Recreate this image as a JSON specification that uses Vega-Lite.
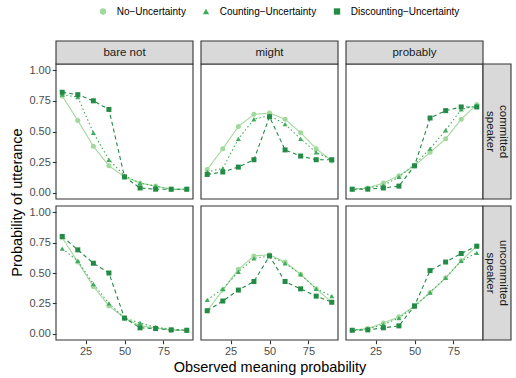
{
"$schema": "https://vega.github.io/schema/vega-lite/v6.json",
"padding": {"left": 9, "top": 6, "right": 5, "bottom": 0},
"datasets": {"d": [
{"modal":"bare not","speaker":"committed","model":"No−Uncertainty","x":10,"y":0.79},
{"modal":"bare not","speaker":"committed","model":"No−Uncertainty","x":20,"y":0.59},
{"modal":"bare not","speaker":"committed","model":"No−Uncertainty","x":30,"y":0.38},
{"modal":"bare not","speaker":"committed","model":"No−Uncertainty","x":40,"y":0.22},
{"modal":"bare not","speaker":"committed","model":"No−Uncertainty","x":50,"y":0.13},
{"modal":"bare not","speaker":"committed","model":"No−Uncertainty","x":60,"y":0.08},
{"modal":"bare not","speaker":"committed","model":"No−Uncertainty","x":70,"y":0.055},
{"modal":"bare not","speaker":"committed","model":"No−Uncertainty","x":80,"y":0.03},
{"modal":"bare not","speaker":"committed","model":"No−Uncertainty","x":90,"y":0.03},
{"modal":"bare not","speaker":"committed","model":"Counting−Uncertainty","x":10,"y":0.80},
{"modal":"bare not","speaker":"committed","model":"Counting−Uncertainty","x":20,"y":0.78},
{"modal":"bare not","speaker":"committed","model":"Counting−Uncertainty","x":30,"y":0.49},
{"modal":"bare not","speaker":"committed","model":"Counting−Uncertainty","x":40,"y":0.27},
{"modal":"bare not","speaker":"committed","model":"Counting−Uncertainty","x":50,"y":0.14},
{"modal":"bare not","speaker":"committed","model":"Counting−Uncertainty","x":60,"y":0.08},
{"modal":"bare not","speaker":"committed","model":"Counting−Uncertainty","x":70,"y":0.055},
{"modal":"bare not","speaker":"committed","model":"Counting−Uncertainty","x":80,"y":0.03},
{"modal":"bare not","speaker":"committed","model":"Counting−Uncertainty","x":90,"y":0.03},
{"modal":"bare not","speaker":"committed","model":"Discounting−Uncertainty","x":10,"y":0.82},
{"modal":"bare not","speaker":"committed","model":"Discounting−Uncertainty","x":20,"y":0.80},
{"modal":"bare not","speaker":"committed","model":"Discounting−Uncertainty","x":30,"y":0.75},
{"modal":"bare not","speaker":"committed","model":"Discounting−Uncertainty","x":40,"y":0.68},
{"modal":"bare not","speaker":"committed","model":"Discounting−Uncertainty","x":50,"y":0.13},
{"modal":"bare not","speaker":"committed","model":"Discounting−Uncertainty","x":60,"y":0.04},
{"modal":"bare not","speaker":"committed","model":"Discounting−Uncertainty","x":70,"y":0.03},
{"modal":"bare not","speaker":"committed","model":"Discounting−Uncertainty","x":80,"y":0.03},
{"modal":"bare not","speaker":"committed","model":"Discounting−Uncertainty","x":90,"y":0.03},
{"modal":"might","speaker":"committed","model":"No−Uncertainty","x":10,"y":0.19},
{"modal":"might","speaker":"committed","model":"No−Uncertainty","x":20,"y":0.36},
{"modal":"might","speaker":"committed","model":"No−Uncertainty","x":30,"y":0.54},
{"modal":"might","speaker":"committed","model":"No−Uncertainty","x":40,"y":0.64},
{"modal":"might","speaker":"committed","model":"No−Uncertainty","x":50,"y":0.65},
{"modal":"might","speaker":"committed","model":"No−Uncertainty","x":60,"y":0.60},
{"modal":"might","speaker":"committed","model":"No−Uncertainty","x":70,"y":0.49},
{"modal":"might","speaker":"committed","model":"No−Uncertainty","x":80,"y":0.36},
{"modal":"might","speaker":"committed","model":"No−Uncertainty","x":90,"y":0.26},
{"modal":"might","speaker":"committed","model":"Counting−Uncertainty","x":10,"y":0.17},
{"modal":"might","speaker":"committed","model":"Counting−Uncertainty","x":20,"y":0.20},
{"modal":"might","speaker":"committed","model":"Counting−Uncertainty","x":30,"y":0.44},
{"modal":"might","speaker":"committed","model":"Counting−Uncertainty","x":40,"y":0.60},
{"modal":"might","speaker":"committed","model":"Counting−Uncertainty","x":50,"y":0.63},
{"modal":"might","speaker":"committed","model":"Counting−Uncertainty","x":60,"y":0.56},
{"modal":"might","speaker":"committed","model":"Counting−Uncertainty","x":70,"y":0.44},
{"modal":"might","speaker":"committed","model":"Counting−Uncertainty","x":80,"y":0.33},
{"modal":"might","speaker":"committed","model":"Counting−Uncertainty","x":90,"y":0.27},
{"modal":"might","speaker":"committed","model":"Discounting−Uncertainty","x":10,"y":0.15},
{"modal":"might","speaker":"committed","model":"Discounting−Uncertainty","x":20,"y":0.17},
{"modal":"might","speaker":"committed","model":"Discounting−Uncertainty","x":30,"y":0.21},
{"modal":"might","speaker":"committed","model":"Discounting−Uncertainty","x":40,"y":0.27},
{"modal":"might","speaker":"committed","model":"Discounting−Uncertainty","x":50,"y":0.62},
{"modal":"might","speaker":"committed","model":"Discounting−Uncertainty","x":60,"y":0.35},
{"modal":"might","speaker":"committed","model":"Discounting−Uncertainty","x":70,"y":0.30},
{"modal":"might","speaker":"committed","model":"Discounting−Uncertainty","x":80,"y":0.27},
{"modal":"might","speaker":"committed","model":"Discounting−Uncertainty","x":90,"y":0.27},
{"modal":"probably","speaker":"committed","model":"No−Uncertainty","x":10,"y":0.03},
{"modal":"probably","speaker":"committed","model":"No−Uncertainty","x":20,"y":0.04},
{"modal":"probably","speaker":"committed","model":"No−Uncertainty","x":30,"y":0.08},
{"modal":"probably","speaker":"committed","model":"No−Uncertainty","x":40,"y":0.14},
{"modal":"probably","speaker":"committed","model":"No−Uncertainty","x":50,"y":0.22},
{"modal":"probably","speaker":"committed","model":"No−Uncertainty","x":60,"y":0.33},
{"modal":"probably","speaker":"committed","model":"No−Uncertainty","x":70,"y":0.44},
{"modal":"probably","speaker":"committed","model":"No−Uncertainty","x":80,"y":0.60},
{"modal":"probably","speaker":"committed","model":"No−Uncertainty","x":90,"y":0.72},
{"modal":"probably","speaker":"committed","model":"Counting−Uncertainty","x":10,"y":0.03},
{"modal":"probably","speaker":"committed","model":"Counting−Uncertainty","x":20,"y":0.04},
{"modal":"probably","speaker":"committed","model":"Counting−Uncertainty","x":30,"y":0.06},
{"modal":"probably","speaker":"committed","model":"Counting−Uncertainty","x":40,"y":0.13},
{"modal":"probably","speaker":"committed","model":"Counting−Uncertainty","x":50,"y":0.23},
{"modal":"probably","speaker":"committed","model":"Counting−Uncertainty","x":60,"y":0.36},
{"modal":"probably","speaker":"committed","model":"Counting−Uncertainty","x":70,"y":0.51},
{"modal":"probably","speaker":"committed","model":"Counting−Uncertainty","x":80,"y":0.68},
{"modal":"probably","speaker":"committed","model":"Counting−Uncertainty","x":90,"y":0.71},
{"modal":"probably","speaker":"committed","model":"Discounting−Uncertainty","x":10,"y":0.03},
{"modal":"probably","speaker":"committed","model":"Discounting−Uncertainty","x":20,"y":0.03},
{"modal":"probably","speaker":"committed","model":"Discounting−Uncertainty","x":30,"y":0.04},
{"modal":"probably","speaker":"committed","model":"Discounting−Uncertainty","x":40,"y":0.055},
{"modal":"probably","speaker":"committed","model":"Discounting−Uncertainty","x":50,"y":0.22},
{"modal":"probably","speaker":"committed","model":"Discounting−Uncertainty","x":60,"y":0.61},
{"modal":"probably","speaker":"committed","model":"Discounting−Uncertainty","x":70,"y":0.67},
{"modal":"probably","speaker":"committed","model":"Discounting−Uncertainty","x":80,"y":0.70},
{"modal":"probably","speaker":"committed","model":"Discounting−Uncertainty","x":90,"y":0.70},
{"modal":"bare not","speaker":"uncommitted","model":"No−Uncertainty","x":10,"y":0.79},
{"modal":"bare not","speaker":"uncommitted","model":"No−Uncertainty","x":20,"y":0.59},
{"modal":"bare not","speaker":"uncommitted","model":"No−Uncertainty","x":30,"y":0.39},
{"modal":"bare not","speaker":"uncommitted","model":"No−Uncertainty","x":40,"y":0.23},
{"modal":"bare not","speaker":"uncommitted","model":"No−Uncertainty","x":50,"y":0.13},
{"modal":"bare not","speaker":"uncommitted","model":"No−Uncertainty","x":60,"y":0.066},
{"modal":"bare not","speaker":"uncommitted","model":"No−Uncertainty","x":70,"y":0.05},
{"modal":"bare not","speaker":"uncommitted","model":"No−Uncertainty","x":80,"y":0.03},
{"modal":"bare not","speaker":"uncommitted","model":"No−Uncertainty","x":90,"y":0.03},
{"modal":"bare not","speaker":"uncommitted","model":"Counting−Uncertainty","x":10,"y":0.70},
{"modal":"bare not","speaker":"uncommitted","model":"Counting−Uncertainty","x":20,"y":0.60},
{"modal":"bare not","speaker":"uncommitted","model":"Counting−Uncertainty","x":30,"y":0.41},
{"modal":"bare not","speaker":"uncommitted","model":"Counting−Uncertainty","x":40,"y":0.25},
{"modal":"bare not","speaker":"uncommitted","model":"Counting−Uncertainty","x":50,"y":0.13},
{"modal":"bare not","speaker":"uncommitted","model":"Counting−Uncertainty","x":60,"y":0.09},
{"modal":"bare not","speaker":"uncommitted","model":"Counting−Uncertainty","x":70,"y":0.055},
{"modal":"bare not","speaker":"uncommitted","model":"Counting−Uncertainty","x":80,"y":0.04},
{"modal":"bare not","speaker":"uncommitted","model":"Counting−Uncertainty","x":90,"y":0.03},
{"modal":"bare not","speaker":"uncommitted","model":"Discounting−Uncertainty","x":10,"y":0.80},
{"modal":"bare not","speaker":"uncommitted","model":"Discounting−Uncertainty","x":20,"y":0.69},
{"modal":"bare not","speaker":"uncommitted","model":"Discounting−Uncertainty","x":30,"y":0.58},
{"modal":"bare not","speaker":"uncommitted","model":"Discounting−Uncertainty","x":40,"y":0.50},
{"modal":"bare not","speaker":"uncommitted","model":"Discounting−Uncertainty","x":50,"y":0.13},
{"modal":"bare not","speaker":"uncommitted","model":"Discounting−Uncertainty","x":60,"y":0.05},
{"modal":"bare not","speaker":"uncommitted","model":"Discounting−Uncertainty","x":70,"y":0.044},
{"modal":"bare not","speaker":"uncommitted","model":"Discounting−Uncertainty","x":80,"y":0.033},
{"modal":"bare not","speaker":"uncommitted","model":"Discounting−Uncertainty","x":90,"y":0.03},
{"modal":"might","speaker":"uncommitted","model":"No−Uncertainty","x":10,"y":0.19},
{"modal":"might","speaker":"uncommitted","model":"No−Uncertainty","x":20,"y":0.36},
{"modal":"might","speaker":"uncommitted","model":"No−Uncertainty","x":30,"y":0.53},
{"modal":"might","speaker":"uncommitted","model":"No−Uncertainty","x":40,"y":0.64},
{"modal":"might","speaker":"uncommitted","model":"No−Uncertainty","x":50,"y":0.65},
{"modal":"might","speaker":"uncommitted","model":"No−Uncertainty","x":60,"y":0.59},
{"modal":"might","speaker":"uncommitted","model":"No−Uncertainty","x":70,"y":0.49},
{"modal":"might","speaker":"uncommitted","model":"No−Uncertainty","x":80,"y":0.37},
{"modal":"might","speaker":"uncommitted","model":"No−Uncertainty","x":90,"y":0.26},
{"modal":"might","speaker":"uncommitted","model":"Counting−Uncertainty","x":10,"y":0.28},
{"modal":"might","speaker":"uncommitted","model":"Counting−Uncertainty","x":20,"y":0.37},
{"modal":"might","speaker":"uncommitted","model":"Counting−Uncertainty","x":30,"y":0.51},
{"modal":"might","speaker":"uncommitted","model":"Counting−Uncertainty","x":40,"y":0.62},
{"modal":"might","speaker":"uncommitted","model":"Counting−Uncertainty","x":50,"y":0.64},
{"modal":"might","speaker":"uncommitted","model":"Counting−Uncertainty","x":60,"y":0.58},
{"modal":"might","speaker":"uncommitted","model":"Counting−Uncertainty","x":70,"y":0.49},
{"modal":"might","speaker":"uncommitted","model":"Counting−Uncertainty","x":80,"y":0.37},
{"modal":"might","speaker":"uncommitted","model":"Counting−Uncertainty","x":90,"y":0.31},
{"modal":"might","speaker":"uncommitted","model":"Discounting−Uncertainty","x":10,"y":0.19},
{"modal":"might","speaker":"uncommitted","model":"Discounting−Uncertainty","x":20,"y":0.27},
{"modal":"might","speaker":"uncommitted","model":"Discounting−Uncertainty","x":30,"y":0.36},
{"modal":"might","speaker":"uncommitted","model":"Discounting−Uncertainty","x":40,"y":0.43},
{"modal":"might","speaker":"uncommitted","model":"Discounting−Uncertainty","x":50,"y":0.64},
{"modal":"might","speaker":"uncommitted","model":"Discounting−Uncertainty","x":60,"y":0.43},
{"modal":"might","speaker":"uncommitted","model":"Discounting−Uncertainty","x":70,"y":0.37},
{"modal":"might","speaker":"uncommitted","model":"Discounting−Uncertainty","x":80,"y":0.31},
{"modal":"might","speaker":"uncommitted","model":"Discounting−Uncertainty","x":90,"y":0.26},
{"modal":"probably","speaker":"uncommitted","model":"No−Uncertainty","x":10,"y":0.03},
{"modal":"probably","speaker":"uncommitted","model":"No−Uncertainty","x":20,"y":0.044},
{"modal":"probably","speaker":"uncommitted","model":"No−Uncertainty","x":30,"y":0.09},
{"modal":"probably","speaker":"uncommitted","model":"No−Uncertainty","x":40,"y":0.14},
{"modal":"probably","speaker":"uncommitted","model":"No−Uncertainty","x":50,"y":0.23},
{"modal":"probably","speaker":"uncommitted","model":"No−Uncertainty","x":60,"y":0.34},
{"modal":"probably","speaker":"uncommitted","model":"No−Uncertainty","x":70,"y":0.46},
{"modal":"probably","speaker":"uncommitted","model":"No−Uncertainty","x":80,"y":0.60},
{"modal":"probably","speaker":"uncommitted","model":"No−Uncertainty","x":90,"y":0.72},
{"modal":"probably","speaker":"uncommitted","model":"Counting−Uncertainty","x":10,"y":0.033},
{"modal":"probably","speaker":"uncommitted","model":"Counting−Uncertainty","x":20,"y":0.04},
{"modal":"probably","speaker":"uncommitted","model":"Counting−Uncertainty","x":30,"y":0.077},
{"modal":"probably","speaker":"uncommitted","model":"Counting−Uncertainty","x":40,"y":0.13},
{"modal":"probably","speaker":"uncommitted","model":"Counting−Uncertainty","x":50,"y":0.225},
{"modal":"probably","speaker":"uncommitted","model":"Counting−Uncertainty","x":60,"y":0.34},
{"modal":"probably","speaker":"uncommitted","model":"Counting−Uncertainty","x":70,"y":0.46},
{"modal":"probably","speaker":"uncommitted","model":"Counting−Uncertainty","x":80,"y":0.60},
{"modal":"probably","speaker":"uncommitted","model":"Counting−Uncertainty","x":90,"y":0.665},
{"modal":"probably","speaker":"uncommitted","model":"Discounting−Uncertainty","x":10,"y":0.03},
{"modal":"probably","speaker":"uncommitted","model":"Discounting−Uncertainty","x":20,"y":0.033},
{"modal":"probably","speaker":"uncommitted","model":"Discounting−Uncertainty","x":30,"y":0.05},
{"modal":"probably","speaker":"uncommitted","model":"Discounting−Uncertainty","x":40,"y":0.066},
{"modal":"probably","speaker":"uncommitted","model":"Discounting−Uncertainty","x":50,"y":0.23},
{"modal":"probably","speaker":"uncommitted","model":"Discounting−Uncertainty","x":60,"y":0.52},
{"modal":"probably","speaker":"uncommitted","model":"Discounting−Uncertainty","x":70,"y":0.59},
{"modal":"probably","speaker":"uncommitted","model":"Discounting−Uncertainty","x":80,"y":0.66},
{"modal":"probably","speaker":"uncommitted","model":"Discounting−Uncertainty","x":90,"y":0.72}
]},
"columns": 3,
"align": "each",
"bounds": "flush",
"spacing": {"row": 7, "column": 8},
"resolve": {"scale": {"x": "independent", "y": "independent"}, "legend": {"color": "shared"}},
"concat": [
{
 "width": 137, "height": 158,
 "layer": [
  {"data": {"name": "d"}, "transform": [{"filter": "datum.modal==='bare not' && datum.speaker==='committed'"}],
   "layer": [
    {"mark": {"type": "line", "strokeWidth": 1.1},
     "encoding": {
      "x": {"field": "x", "type": "quantitative", "scale": {"domain": [6, 94], "range": [0, 137], "nice": false, "zero": false}, "axis": null},
      "y": {"field": "y", "type": "quantitative", "scale": {"domain": [-0.05, 1.05], "range": [158, 23], "nice": false, "zero": false}, "axis": {"values": [0, 0.25, 0.5, 0.75, 1], "format": ".2f", "title": "Probability of utterance", "titleY": 161}},
      "color": {"field": "model", "type": "nominal", "title": null, "scale": {"domain": ["No−Uncertainty", "Counting−Uncertainty", "Discounting−Uncertainty"], "range": ["#a1d99b", "#41ab5d", "#238b45"]},
        "legend": {"orient": "none", "legendX": 42, "legendY": -34.5, "direction": "horizontal", "columns": 3, "labelFontSize": 10, "labelColor": "#000000", "symbolSize": 40, "labelOffset": 8.7, "columnPadding": 15, "symbolStrokeWidth": 0, "symbolOpacity": 1, "padding": 0}},
      "strokeDash": {"field": "model", "type": "nominal", "title": null, "scale": {"domain": ["No−Uncertainty", "Counting−Uncertainty", "Discounting−Uncertainty"], "range": [[1, 0], [1.5, 2.5], [4, 3]]}, "legend": null}}},
    {"mark": {"type": "point", "filled": true, "size": 25, "opacity": 1},
     "encoding": {
      "x": {"field": "x", "type": "quantitative", "axis": null},
      "y": {"field": "y", "type": "quantitative", "axis": {"values": [0, 0.25, 0.5, 0.75, 1], "format": ".2f", "title": "Probability of utterance", "titleY": 161}},
      "color": {"field": "model", "type": "nominal", "title": null,
        "legend": {"orient": "none", "legendX": 42, "legendY": -34.5, "direction": "horizontal", "columns": 3, "labelFontSize": 10, "labelColor": "#000000", "symbolSize": 40, "labelOffset": 8.7, "columnPadding": 15, "symbolStrokeWidth": 0, "symbolOpacity": 1, "padding": 0}},
      "shape": {"field": "model", "type": "nominal", "title": null, "scale": {"domain": ["No−Uncertainty", "Counting−Uncertainty", "Discounting−Uncertainty"], "range": ["circle", "triangle-up", "square"]}, "legend": null}}}
   ]},
  {"data": {"values": [{}]}, "mark": {"type": "rect", "fillOpacity": 0, "stroke": "#333333", "strokeWidth": 1.1},
   "encoding": {"x": {"datum": 6, "type": "quantitative", "axis": null}, "x2": {"datum": 94}, "y": {"datum": -0.05, "type": "quantitative", "axis": {"values": [0, 0.25, 0.5, 0.75, 1], "format": ".2f", "title": "Probability of utterance", "titleY": 161}}, "y2": {"datum": 1.05}}},
  {"data": {"values": [{"label": "bare not"}]},
   "layer": [
    {"mark": {"type": "rect", "fill": "#d9d9d9", "stroke": "#333333", "strokeWidth": 1.1},
     "encoding": {"x": {"datum": 6, "type": "quantitative", "axis": null}, "x2": {"datum": 94}, "y": {"datum": 1.05, "type": "quantitative", "axis": {"values": [0, 0.25, 0.5, 0.75, 1], "format": ".2f", "title": "Probability of utterance", "titleY": 161}}, "y2": {"datum": 1.2374}}},
    {"mark": {"type": "text", "fontSize": 11.5, "color": "#1a1a1a"},
     "encoding": {"x": {"datum": 50, "type": "quantitative", "axis": null}, "y": {"datum": 1.1437, "type": "quantitative", "axis": {"values": [0, 0.25, 0.5, 0.75, 1], "format": ".2f", "title": "Probability of utterance", "titleY": 161}}, "text": {"field": "label"}}}
   ]}
 ]
},
{
 "width": 137, "height": 158,
 "layer": [
  {"data": {"name": "d"}, "transform": [{"filter": "datum.modal==='might' && datum.speaker==='committed'"}],
   "layer": [
    {"mark": {"type": "line", "strokeWidth": 1.1},
     "encoding": {
      "x": {"field": "x", "type": "quantitative", "scale": {"domain": [6, 94], "range": [0, 137], "nice": false, "zero": false}, "axis": null},
      "y": {"field": "y", "type": "quantitative", "scale": {"domain": [-0.05, 1.05], "range": [158, 23], "nice": false, "zero": false}, "axis": null},
      "color": {"field": "model", "type": "nominal", "title": null},
      "strokeDash": {"field": "model", "type": "nominal", "title": null, "legend": null}}},
    {"mark": {"type": "point", "filled": true, "size": 25, "opacity": 1},
     "encoding": {
      "x": {"field": "x", "type": "quantitative", "axis": null},
      "y": {"field": "y", "type": "quantitative", "axis": null},
      "color": {"field": "model", "type": "nominal", "title": null},
      "shape": {"field": "model", "type": "nominal", "title": null, "legend": null}}}
   ]},
  {"data": {"values": [{}]}, "mark": {"type": "rect", "fillOpacity": 0, "stroke": "#333333", "strokeWidth": 1.1},
   "encoding": {"x": {"datum": 6, "type": "quantitative", "axis": null}, "x2": {"datum": 94}, "y": {"datum": -0.05, "type": "quantitative", "axis": null}, "y2": {"datum": 1.05}}},
  {"data": {"values": [{"label": "might"}]},
   "layer": [
    {"mark": {"type": "rect", "fill": "#d9d9d9", "stroke": "#333333", "strokeWidth": 1.1},
     "encoding": {"x": {"datum": 6, "type": "quantitative", "axis": null}, "x2": {"datum": 94}, "y": {"datum": 1.05, "type": "quantitative", "axis": null}, "y2": {"datum": 1.2374}}},
    {"mark": {"type": "text", "fontSize": 11.5, "color": "#1a1a1a"},
     "encoding": {"x": {"datum": 50, "type": "quantitative", "axis": null}, "y": {"datum": 1.1437, "type": "quantitative", "axis": null}, "text": {"field": "label"}}}
   ]}
 ]
},
{
 "width": 165, "height": 158,
 "layer": [
  {"data": {"name": "d"}, "transform": [{"filter": "datum.modal==='probably' && datum.speaker==='committed'"}],
   "layer": [
    {"mark": {"type": "line", "strokeWidth": 1.1},
     "encoding": {
      "x": {"field": "x", "type": "quantitative", "scale": {"domain": [6, 94], "range": [0, 137], "nice": false, "zero": false}, "axis": null},
      "y": {"field": "y", "type": "quantitative", "scale": {"domain": [-0.05, 1.05], "range": [158, 23], "nice": false, "zero": false}, "axis": null},
      "color": {"field": "model", "type": "nominal", "title": null},
      "strokeDash": {"field": "model", "type": "nominal", "title": null, "legend": null}}},
    {"mark": {"type": "point", "filled": true, "size": 25, "opacity": 1},
     "encoding": {
      "x": {"field": "x", "type": "quantitative", "axis": null},
      "y": {"field": "y", "type": "quantitative", "axis": null},
      "color": {"field": "model", "type": "nominal", "title": null},
      "shape": {"field": "model", "type": "nominal", "title": null, "legend": null}}}
   ]},
  {"data": {"values": [{}]}, "mark": {"type": "rect", "fillOpacity": 0, "stroke": "#333333", "strokeWidth": 1.1},
   "encoding": {"x": {"datum": 6, "type": "quantitative", "axis": null}, "x2": {"datum": 94}, "y": {"datum": -0.05, "type": "quantitative", "axis": null}, "y2": {"datum": 1.05}}},
  {"data": {"values": [{"label": "probably"}]},
   "layer": [
    {"mark": {"type": "rect", "fill": "#d9d9d9", "stroke": "#333333", "strokeWidth": 1.1},
     "encoding": {"x": {"datum": 6, "type": "quantitative", "axis": null}, "x2": {"datum": 94}, "y": {"datum": 1.05, "type": "quantitative", "axis": null}, "y2": {"datum": 1.2374}}},
    {"mark": {"type": "text", "fontSize": 11.5, "color": "#1a1a1a"},
     "encoding": {"x": {"datum": 50, "type": "quantitative", "axis": null}, "y": {"datum": 1.1437, "type": "quantitative", "axis": null}, "text": {"field": "label"}}}
   ]},
  {"data": {"values": [{"label": "committed\nspeaker"}]},
   "layer": [
    {"mark": {"type": "rect", "fill": "#d9d9d9", "stroke": "#333333", "strokeWidth": 1.1},
     "encoding": {"x": {"datum": 94, "type": "quantitative", "axis": null}, "x2": {"datum": 111.98}, "y": {"datum": -0.05, "type": "quantitative", "axis": null}, "y2": {"datum": 1.05}}},
    {"mark": {"type": "text", "fontSize": 11.5, "color": "#1a1a1a", "angle": 90, "lineBreak": "\n", "lineHeight": 13, "dy": -6.5},
     "encoding": {"x": {"datum": 102.99, "type": "quantitative", "axis": null}, "y": {"datum": 0.5, "type": "quantitative", "axis": null}, "text": {"field": "label"}}}
   ]}
 ]
},
{
 "width": 137, "height": 134,
 "layer": [
  {"data": {"name": "d"}, "transform": [{"filter": "datum.modal==='bare not' && datum.speaker==='uncommitted'"}],
   "layer": [
    {"mark": {"type": "line", "strokeWidth": 1.1},
     "encoding": {
      "x": {"field": "x", "type": "quantitative", "scale": {"domain": [6, 94], "range": [0, 137], "nice": false, "zero": false}, "axis": {"values": [25, 50, 75], "title": null}},
      "y": {"field": "y", "type": "quantitative", "scale": {"domain": [-0.05, 1.05], "range": [134, 0], "nice": false, "zero": false}, "axis": {"values": [0, 0.25, 0.5, 0.75, 1], "format": ".2f", "title": null}},
      "color": {"field": "model", "type": "nominal", "title": null},
      "strokeDash": {"field": "model", "type": "nominal", "title": null, "legend": null}}},
    {"mark": {"type": "point", "filled": true, "size": 25, "opacity": 1},
     "encoding": {
      "x": {"field": "x", "type": "quantitative", "axis": {"values": [25, 50, 75], "title": null}},
      "y": {"field": "y", "type": "quantitative", "axis": {"values": [0, 0.25, 0.5, 0.75, 1], "format": ".2f", "title": null}},
      "color": {"field": "model", "type": "nominal", "title": null},
      "shape": {"field": "model", "type": "nominal", "title": null, "legend": null}}}
   ]},
  {"data": {"values": [{}]}, "mark": {"type": "rect", "fillOpacity": 0, "stroke": "#333333", "strokeWidth": 1.1},
   "encoding": {"x": {"datum": 6, "type": "quantitative", "axis": {"values": [25, 50, 75], "title": null}}, "x2": {"datum": 94}, "y": {"datum": -0.05, "type": "quantitative", "axis": {"values": [0, 0.25, 0.5, 0.75, 1], "format": ".2f", "title": null}}, "y2": {"datum": 1.05}}}
 ]
},
{
 "width": 137, "height": 134,
 "layer": [
  {"data": {"name": "d"}, "transform": [{"filter": "datum.modal==='might' && datum.speaker==='uncommitted'"}],
   "layer": [
    {"mark": {"type": "line", "strokeWidth": 1.1},
     "encoding": {
      "x": {"field": "x", "type": "quantitative", "scale": {"domain": [6, 94], "range": [0, 137], "nice": false, "zero": false}, "axis": {"values": [25, 50, 75], "title": "Observed meaning probability"}},
      "y": {"field": "y", "type": "quantitative", "scale": {"domain": [-0.05, 1.05], "range": [134, 0], "nice": false, "zero": false}, "axis": null},
      "color": {"field": "model", "type": "nominal", "title": null},
      "strokeDash": {"field": "model", "type": "nominal", "title": null, "legend": null}}},
    {"mark": {"type": "point", "filled": true, "size": 25, "opacity": 1},
     "encoding": {
      "x": {"field": "x", "type": "quantitative", "axis": {"values": [25, 50, 75], "title": "Observed meaning probability"}},
      "y": {"field": "y", "type": "quantitative", "axis": null},
      "color": {"field": "model", "type": "nominal", "title": null},
      "shape": {"field": "model", "type": "nominal", "title": null, "legend": null}}}
   ]},
  {"data": {"values": [{}]}, "mark": {"type": "rect", "fillOpacity": 0, "stroke": "#333333", "strokeWidth": 1.1},
   "encoding": {"x": {"datum": 6, "type": "quantitative", "axis": {"values": [25, 50, 75], "title": "Observed meaning probability"}}, "x2": {"datum": 94}, "y": {"datum": -0.05, "type": "quantitative", "axis": null}, "y2": {"datum": 1.05}}}
 ]
},
{
 "width": 165, "height": 134,
 "layer": [
  {"data": {"name": "d"}, "transform": [{"filter": "datum.modal==='probably' && datum.speaker==='uncommitted'"}],
   "layer": [
    {"mark": {"type": "line", "strokeWidth": 1.1},
     "encoding": {
      "x": {"field": "x", "type": "quantitative", "scale": {"domain": [6, 94], "range": [0, 137], "nice": false, "zero": false}, "axis": {"values": [25, 50, 75], "title": null}},
      "y": {"field": "y", "type": "quantitative", "scale": {"domain": [-0.05, 1.05], "range": [134, 0], "nice": false, "zero": false}, "axis": null},
      "color": {"field": "model", "type": "nominal", "title": null},
      "strokeDash": {"field": "model", "type": "nominal", "title": null, "legend": null}}},
    {"mark": {"type": "point", "filled": true, "size": 25, "opacity": 1},
     "encoding": {
      "x": {"field": "x", "type": "quantitative", "axis": {"values": [25, 50, 75], "title": null}},
      "y": {"field": "y", "type": "quantitative", "axis": null},
      "color": {"field": "model", "type": "nominal", "title": null},
      "shape": {"field": "model", "type": "nominal", "title": null, "legend": null}}}
   ]},
  {"data": {"values": [{}]}, "mark": {"type": "rect", "fillOpacity": 0, "stroke": "#333333", "strokeWidth": 1.1},
   "encoding": {"x": {"datum": 6, "type": "quantitative", "axis": {"values": [25, 50, 75], "title": null}}, "x2": {"datum": 94}, "y": {"datum": -0.05, "type": "quantitative", "axis": null}, "y2": {"datum": 1.05}}},
  {"data": {"values": [{"label": "uncommitted\nspeaker"}]},
   "layer": [
    {"mark": {"type": "rect", "fill": "#d9d9d9", "stroke": "#333333", "strokeWidth": 1.1},
     "encoding": {"x": {"datum": 94, "type": "quantitative", "axis": {"values": [25, 50, 75], "title": null}}, "x2": {"datum": 111.98}, "y": {"datum": -0.05, "type": "quantitative", "axis": null}, "y2": {"datum": 1.05}}},
    {"mark": {"type": "text", "fontSize": 11.5, "color": "#1a1a1a", "angle": 90, "lineBreak": "\n", "lineHeight": 13, "dy": -6.5},
     "encoding": {"x": {"datum": 102.99, "type": "quantitative", "axis": {"values": [25, 50, 75], "title": null}}, "y": {"datum": 0.5, "type": "quantitative", "axis": null}, "text": {"field": "label"}}}
   ]}
 ]
}
],
"config": {
 "font": "Liberation Sans",
 "view": {"stroke": null},
 "axis": {"grid": false, "domain": false, "tickColor": "#333333", "tickSize": 3.7, "tickWidth": 1.1, "labelColor": "#4d4d4d", "labelFontSize": 11, "labelPadding": 2, "titleFontSize": 14.5, "titleFontWeight": "normal", "titleColor": "#000000", "titlePadding": 4, "labelFont": "Liberation Sans", "titleFont": "Liberation Sans"},
 "mark": {"strokeCap": "butt"}
}
}
